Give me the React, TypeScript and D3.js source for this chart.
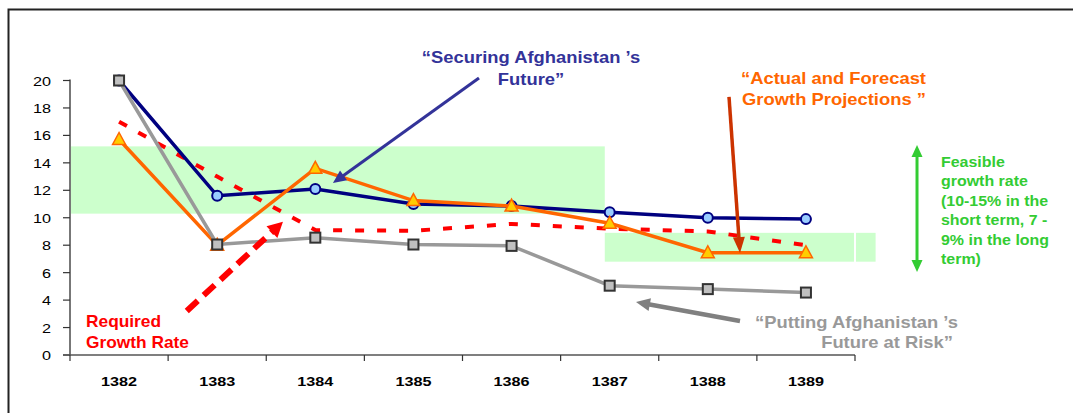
import * as d3 from "d3";
import React from "react";

// fiscal years (Afghan calendar)
const years = ["1382", "1383", "1384", "1385", "1386", "1387", "1388", "1389"];

// growth rate scenarios, %
const securing = [20, 11.6, 12.1, 11.0, 10.85, 10.4, 10.0, 9.9];
const actual = [15.7, 8.0, 13.6, 11.25, 10.85, 9.6, 7.45, 7.45];
const atRisk = [20, 8.05, 8.55, 8.05, 7.95, 5.05, 4.8, 4.55];
const required = [17, 13, 9.1, 9.05, 9.55, 9.2, 9.0, 8.0];

const yTicks = d3.range(0, 21, 2);

// feasible bands: [fromIndex, toIndex, low, high] in category / value units
const bands: [number, number, number, number][] = [
  [0, 5.45, 10.3, 15.2],
  [5.45, 7.99, 6.8, 8.9],
  [8.01, 8.21, 6.8, 8.9],
];

const W = 1073;
const H = 413;
const left = 70;
const right = 855;
const top = 80.5;
const bottom = 355;
const font = "Arial, 'Liberation Sans', Helvetica, sans-serif";

const x = d3.scaleBand<string>().domain(years).range([left, right]).padding(0);
const xi = d3.scaleLinear().domain([0, years.length]).range([left, right]);
const y = d3.scaleLinear().domain([0, 20]).range([bottom, top]);
const cx = (i: number) => (x(years[i]) ?? 0) + x.bandwidth() / 2;

const lineGen = d3
  .line<number>()
  .x((_, i) => cx(i))
  .y((d) => y(d));

type Pt = [number, number];
const toPx = (p: Pt): Pt => [xi(p[0]), y(p[1])];

function Label(props: {
  x: number;
  y: number;
  sx?: number;
  anchor?: "start" | "middle" | "end";
  size: number;
  fill: string;
  bold?: boolean;
  children: React.ReactNode;
}) {
  const { sx = 1, anchor = "start", bold = true } = props;
  return (
    <text
      transform={`translate(${props.x},${props.y}) scale(${sx},1)`}
      textAnchor={anchor}
      fontSize={props.size}
      fontWeight={bold ? "bold" : "normal"}
      fill={props.fill}
      fontFamily={font}
    >
      {props.children}
    </text>
  );
}

function head(tip: Pt, from: Pt, len: number, half: number) {
  const dx = tip[0] - from[0];
  const dy = tip[1] - from[1];
  const n = Math.hypot(dx, dy);
  const ux = dx / n;
  const uy = dy / n;
  const bx = tip[0] - ux * len;
  const by = tip[1] - uy * len;
  return `${tip[0]},${tip[1]} ${bx - uy * half},${by + ux * half} ${bx + uy * half},${by - ux * half}`;
}

function Arrow(props: {
  from: Pt;
  to: Pt;
  color: string;
  width: number;
  len: number;
  half: number;
  dash?: string;
  both?: boolean;
}) {
  const a = toPx(props.from);
  const b = toPx(props.to);
  const n = Math.hypot(b[0] - a[0], b[1] - a[1]);
  const ux = (b[0] - a[0]) / n;
  const uy = (b[1] - a[1]) / n;
  const cut = props.len * 0.7;
  const s: Pt = props.both ? [a[0] + ux * cut, a[1] + uy * cut] : a;
  const e: Pt = [b[0] - ux * cut, b[1] - uy * cut];
  return (
    <g>
      <line
        x1={s[0]}
        y1={s[1]}
        x2={e[0]}
        y2={e[1]}
        stroke={props.color}
        strokeWidth={props.width}
        strokeDasharray={props.dash}
      />
      <polygon points={head(b, a, props.len, props.half)} fill={props.color} />
      {props.both && <polygon points={head(a, b, props.len, props.half)} fill={props.color} />}
    </g>
  );
}

export default function App() {
  return (
    <div style={{ position: "absolute", left: 0, top: 0 }}>
      <svg width={W} height={H} style={{ display: "block", background: "#fff" }}>
        <rect x={8.5} y={9.5} width={1200} height={600} fill="none" stroke="#222" strokeWidth={2} />

        {bands.map(([a, b, lo, hi], i) => (
          <rect
            key={i}
            x={xi(a)}
            y={y(hi)}
            width={xi(b) - xi(a)}
            height={y(lo) - y(hi)}
            fill="#ccffcc"
          />
        ))}

        {/* y axis */}
        <line x1={left} x2={left} y1={top - 1} y2={bottom} stroke="#777" strokeWidth={2} />
        {yTicks.map((t) => (
          <g key={t}>
            <line x1={left - 7} x2={left} y1={y(t)} y2={y(t)} stroke="#333" strokeWidth={1.2} />
            <Label x={51} y={y(t) + 5} size={13.5} sx={1.2} anchor="end" fill="#000" bold={false}>
              {t}
            </Label>
          </g>
        ))}

        {/* x axis */}
        <line x1={left - 7} x2={right} y1={bottom} y2={bottom} stroke="#555" strokeWidth={1.6} />
        {d3.range(years.length + 1).map((i) => (
          <line key={i} x1={xi(i)} x2={xi(i)} y1={bottom} y2={bottom + 6} stroke="#333" strokeWidth={1.2} />
        ))}
        {years.map((yr, i) => (
          <Label key={yr} x={cx(i)} y={385.5} size={13.5} sx={1.2} anchor="middle" fill="#000">
            {yr}
          </Label>
        ))}

        {/* required growth rate */}
        <path d={lineGen(required) ?? ""} fill="none" stroke="#ff0000" strokeWidth={4} strokeDasharray="9 13" />

        {/* Securing Afghanistan's Future */}
        <path d={lineGen(securing) ?? ""} fill="none" stroke="#000080" strokeWidth={3.5} />
        {securing.map((v, i) => (
          <circle key={i} cx={cx(i)} cy={y(v)} r={5} fill="#99ccff" stroke="#000080" strokeWidth={2} />
        ))}

        {/* Actual and forecast */}
        <path d={lineGen(actual) ?? ""} fill="none" stroke="#ff6600" strokeWidth={3.5} />
        {actual.map((v, i) => {
          const px = cx(i);
          const py = y(v);
          return (
            <polygon
              key={i}
              points={`${px},${py - 7} ${px + 6.5},${py + 5} ${px - 6.5},${py + 5}`}
              fill="#ffcc00"
              stroke="#ff6600"
              strokeWidth={1.5}
            />
          );
        })}

        {/* Putting Afghanistan's Future at Risk */}
        <path d={lineGen(atRisk) ?? ""} fill="none" stroke="#999999" strokeWidth={3.5} />
        {atRisk.map((v, i) => (
          <rect key={i} x={cx(i) - 5} y={y(v) - 5} width={10} height={10} fill="#c0c0c0" stroke="#333" strokeWidth={2} />
        ))}

        {/* annotation arrows */}
        <Arrow from={[4.168, 20.18]} to={[2.68, 12.53]} color="#333399" width={3} len={13} half={6} />
        <Arrow from={[6.716, 18.8]} to={[6.828, 7.43]} color="#cc3300" width={3.5} len={16} half={6} />
        <Arrow from={[6.828, 2.48]} to={[5.768, 3.86]} color="#808080" width={4.5} len={14} half={6.5} />
        <Arrow from={[1.19, 3.21]} to={[2.17, 9.7]} color="#ff0000" width={6} len={15} half={8} dash="15 8" />
        <Arrow from={[8.632, 6.05]} to={[8.632, 15.3]} color="#33cc33" width={3} len={12} half={5.5} both />

        {/* annotation texts */}
        <Label x={531} y={63} size={16} sx={1.15} anchor="middle" fill="#333399">
          “Securing Afghanistan ’s
        </Label>
        <Label x={531} y={85} size={16} sx={1.15} anchor="middle" fill="#333399">
          Future”
        </Label>

        <Label x={926} y={84} size={16} sx={1.15} anchor="end" fill="#ff6600">
          “Actual and Forecast
        </Label>
        <Label x={926} y={105} size={16} sx={1.15} anchor="end" fill="#ff6600">
          Growth Projections ”
        </Label>

        {[
          "Feasible",
          "growth rate",
          "(10-15% in the",
          "short term, 7 -",
          "9% in the long",
          "term)",
        ].map((t, i) => (
          <Label key={t} x={941} y={167 + i * 19.4} size={14.5} sx={1.1} fill="#33cc33">
            {t}
          </Label>
        ))}

        <Label x={86} y={327} size={16.5} sx={1.05} fill="#ff0000">
          Required
        </Label>
        <Label x={86} y={347.5} size={16.5} sx={1.05} fill="#ff0000">
          Growth Rate
        </Label>

        <Label x={958} y={328} size={16} sx={1.15} anchor="end" fill="#999999">
          “Putting Afghanistan ’s
        </Label>
        <Label x={953} y={347.5} size={16} sx={1.15} anchor="end" fill="#999999">
          Future at Risk”
        </Label>
      </svg>
    </div>
  );
}
